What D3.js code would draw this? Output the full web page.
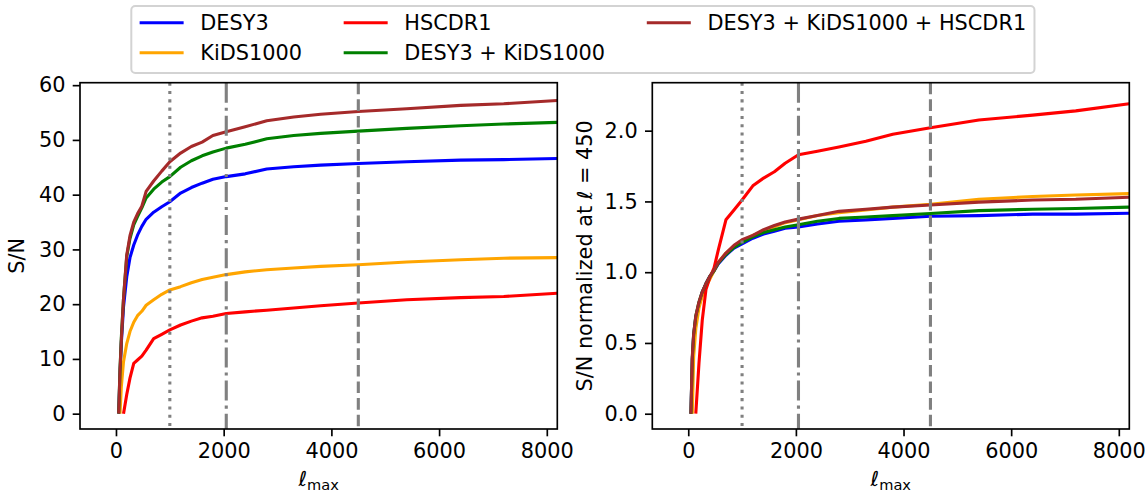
<!DOCTYPE html>
<html>
<head>
<meta charset="utf-8">
<script src="https://cdn.jsdelivr.net/npm/d3@7"></script>
<style>
  body { margin: 0; background: #fff; }
  text { font-family: "DejaVu Sans", sans-serif; fill: #000; }
</style>
</head>
<body>
<svg id="chart" width="1148" height="493"></svg>
<script>
// ------------------------------------
// Data
// ------------------------------------
const ells = [50, 75, 100, 140, 200, 260, 330, 400, 480, 560, 700, 850, 1000, 1200, 1400, 1600, 1800, 2048, 2400, 2800, 3300, 3800, 4500, 5400, 6400, 7200, 8192];

// S/N (left panel)
const snDESY3   = [0, 7, 13, 19.5, 25, 28.5, 30.8, 32.6, 34.2, 35.5, 36.8, 37.8, 38.7, 40.3, 41.3, 42.1, 42.8, 43.3, 43.8, 44.7, 45.1, 45.4, 45.7, 46.0, 46.3, 46.4, 46.6];
const snKiDS    = [null, 0, 5, 9.5, 12.8, 15, 16.7, 17.9, 18.7, 19.8, 20.8, 21.8, 22.6, 23.2, 23.9, 24.5, 24.9, 25.4, 25.9, 26.3, 26.6, 26.9, 27.2, 27.7, 28.1, 28.4, 28.5];
const snHSC     = [null, null, null, 0, 3.5, 6.5, 9.2, 9.8, 10.5, 11.6, 13.7, 14.5, 15.3, 16.2, 16.9, 17.5, 17.8, 18.3, 18.6, 18.9, 19.3, 19.7, 20.2, 20.8, 21.2, 21.4, 22.0];
const snDK      = [0, 8, 14, 21, 28.7, 32, 34.5, 36, 37.6, 39.4, 41, 42.3, 43.3, 45, 46.2, 47.1, 47.8, 48.5, 49.2, 50.2, 50.8, 51.2, 51.6, 52.1, 52.6, 52.9, 53.2];
const snDKH     = [0, 8, 13.5, 21, 29, 32.5, 35, 36.5, 37.9, 40.6, 42.5, 44.3, 46, 47.6, 48.8, 49.6, 50.8, 51.5, 52.4, 53.5, 54.2, 54.7, 55.2, 55.7, 56.3, 56.6, 57.2];

// S/N normalized at ell = 450 (right panel)
const normDESY3 = [0, 0.38, 0.55, 0.68, 0.78, 0.86, 0.92, 0.97, 1.01, 1.06, 1.12, 1.17, 1.2, 1.24, 1.27, 1.29, 1.31, 1.32, 1.34, 1.36, 1.37, 1.38, 1.395, 1.40, 1.41, 1.41, 1.416];
const normKiDS  = [null, 0, 0.4, 0.6, 0.75, 0.83, 0.9, 0.95, 1.01, 1.07, 1.135, 1.185, 1.22, 1.26, 1.29, 1.32, 1.35, 1.37, 1.40, 1.42, 1.44, 1.46, 1.48, 1.515, 1.535, 1.545, 1.555];
const normHSC   = [null, null, null, 0, 0.36, 0.66, 0.88, 0.96, 1.03, 1.16, 1.37, 1.44, 1.51, 1.61, 1.665, 1.71, 1.77, 1.83, 1.855, 1.885, 1.925, 1.975, 2.02, 2.075, 2.11, 2.14, 2.19];
const normDK    = [0, 0.39, 0.56, 0.69, 0.79, 0.86, 0.92, 0.97, 1.01, 1.065, 1.125, 1.175, 1.21, 1.25, 1.28, 1.30, 1.32, 1.335, 1.36, 1.38, 1.39, 1.40, 1.415, 1.435, 1.445, 1.45, 1.46];
const normDKH   = [0, 0.4, 0.56, 0.69, 0.79, 0.86, 0.92, 0.97, 1.015, 1.07, 1.135, 1.19, 1.23, 1.26, 1.30, 1.33, 1.355, 1.375, 1.40, 1.43, 1.445, 1.46, 1.475, 1.495, 1.51, 1.515, 1.53];

const seriesNames  = ["DESY3", "KiDS1000", "HSCDR1", "DESY3 + KiDS1000", "DESY3 + KiDS1000 + HSCDR1"];
const seriesColors = ["blue", "orange", "red", "green", "brown"];

const xTicks    = [0, 2000, 4000, 6000, 8000];
const snTicks   = [0, 10, 20, 30, 40, 50, 60];
const normTicks = [0, 0.5, 1.0, 1.5, 2.0];

// scale cuts (vertical guide lines)
const cutEll    = [1000, 2048, 4500];
const cutDashes = ["3.1,5.2", "20,5,3.1,5", "11.6,5"];

// ------------------------------------
// Layout
// ------------------------------------
const svg = d3.select("#chart");
const FS = 20.83;   // 10pt at 150 dpi
const LW = 3.1;

const panels = [
  { left: 80, right: 557.3, top: 82.7, bottom: 429, ydom: [-2.8, 60.45], ticks: snTicks, fmt: d3.format("d"),
    series: [snDESY3, snKiDS, snHSC, snDK, snDKH], ylabelX: 17 },
  { left: 652.3, right: 1129.3, top: 82.7, bottom: 429, ydom: [-0.108, 2.339], ticks: normTicks, fmt: d3.format(".1f"),
    series: [normDESY3, normKiDS, normHSC, normDK, normDKH], ylabelX: 585 }
];

panels.forEach((p, pi) => {
  const x = d3.scaleLinear().domain([-668, 8195]).range([p.left, p.right]);
  const y = d3.scaleLinear().domain(p.ydom).range([p.bottom, p.top]);

  const g = svg.append("g");

  // Curves
  p.series.forEach((vals, si) => {
    const pts = ells.map((l, i) => ({ l, v: vals[i] }));
    const line = d3.line()
      .defined(d => d.v !== null)
      .x(d => x(d.l))
      .y(d => y(d.v));
    g.append("path")
      .datum(pts)
      .attr("fill", "none")
      .attr("stroke", seriesColors[si])
      .attr("stroke-width", LW)
      .attr("stroke-linejoin", "round")
      .attr("d", line);
  });

  // Vertical scale cuts
  cutEll.forEach((c, i) => {
    g.append("line")
      .attr("x1", x(c)).attr("x2", x(c))
      .attr("y1", p.top).attr("y2", p.bottom)
      .attr("stroke", "gray")
      .attr("stroke-width", LW)
      .attr("stroke-dasharray", cutDashes[i]);
  });

  // Frame
  g.append("rect")
    .attr("x", p.left).attr("y", p.top)
    .attr("width", p.right - p.left).attr("height", p.bottom - p.top)
    .attr("fill", "none").attr("stroke", "#000").attr("stroke-width", 1.67);

  // X axis
  const xAxis = g.append("g")
    .attr("transform", `translate(0,${p.bottom})`)
    .call(d3.axisBottom(x).tickValues(xTicks).tickFormat(d3.format("d")).tickSizeOuter(0).tickSize(7.3).tickPadding(7.3));
  xAxis.select(".domain").remove();
  xAxis.selectAll(".tick line").attr("stroke-width", 1.67);
  xAxis.selectAll("text").style("font-size", FS + "px").attr("fill", "#000");

  // Y axis
  const yAxis = g.append("g")
    .attr("transform", `translate(${p.left},0)`)
    .call(d3.axisLeft(y).tickValues(p.ticks).tickFormat(p.fmt).tickSizeOuter(0).tickSize(7.3).tickPadding(7.3));
  yAxis.select(".domain").remove();
  yAxis.selectAll(".tick line").attr("stroke-width", 1.67);
  yAxis.selectAll("text").style("font-size", FS + "px").attr("fill", "#000");

  // X label: ell_max
  const cx = (p.left + p.right) / 2;
  const xl = g.append("text")
    .attr("x", cx).attr("y", 486)
    .attr("text-anchor", "middle")
    .style("font-size", FS + "px");
  xl.append("tspan").style("font-style", "italic").text("ℓ");
  xl.append("tspan").attr("dy", 4).style("font-size", "14.6px").text("max");

  // Y label
  const cy = (p.top + p.bottom) / 2;
  const yl = g.append("text")
    .attr("transform", `translate(${p.ylabelX},${cy}) rotate(-90)`)
    .attr("text-anchor", "middle")
    .attr("dy", "0.35em")
    .style("font-size", FS + "px");
  if (pi === 0) {
    yl.text("S/N");
  } else {
    yl.append("tspan").text("S/N normalized at ");
    yl.append("tspan").style("font-style", "italic").text("ℓ");
    yl.append("tspan").text(" = 450");
  }
});

// ------------------------------------
// Legend (3 columns, filled column-wise)
// ------------------------------------
const legend = svg.append("g");
const lgLeft = 131.3, lgTop = 6, lgBottom = 73;
const rowY = [22.7, 52.7];
const handleLen = 44, textPad = 0.8 * FS, colSpace = 2 * FS, borderPad = 0.4 * FS;

const box = legend.append("rect")
  .attr("x", lgLeft).attr("y", lgTop)
  .attr("rx", 4).attr("ry", 4)
  .attr("height", lgBottom - lgTop)
  .attr("fill", "white").attr("fill-opacity", 0.8)
  .attr("stroke", "#d3d3d3").attr("stroke-width", 2);

let colX = lgLeft + borderPad;
const nCols = 3;
for (let c = 0; c < nCols; c++) {
  const members = [2 * c, 2 * c + 1].filter(i => i < seriesNames.length);
  let maxW = 0;
  members.forEach((si, r) => {
    legend.append("line")
      .attr("x1", colX).attr("x2", colX + handleLen)
      .attr("y1", rowY[r]).attr("y2", rowY[r])
      .attr("stroke", seriesColors[si]).attr("stroke-width", LW);
    const t = legend.append("text")
      .attr("x", colX + handleLen + textPad).attr("y", rowY[r])
      .attr("dy", "0.35em")
      .style("font-size", FS + "px")
      .text(seriesNames[si]);
    maxW = Math.max(maxW, t.node().getComputedTextLength());
  });
  colX += handleLen + textPad + maxW + (c < nCols - 1 ? colSpace : 0);
}
box.attr("width", colX + borderPad - lgLeft);
</script>
</body>
</html>
